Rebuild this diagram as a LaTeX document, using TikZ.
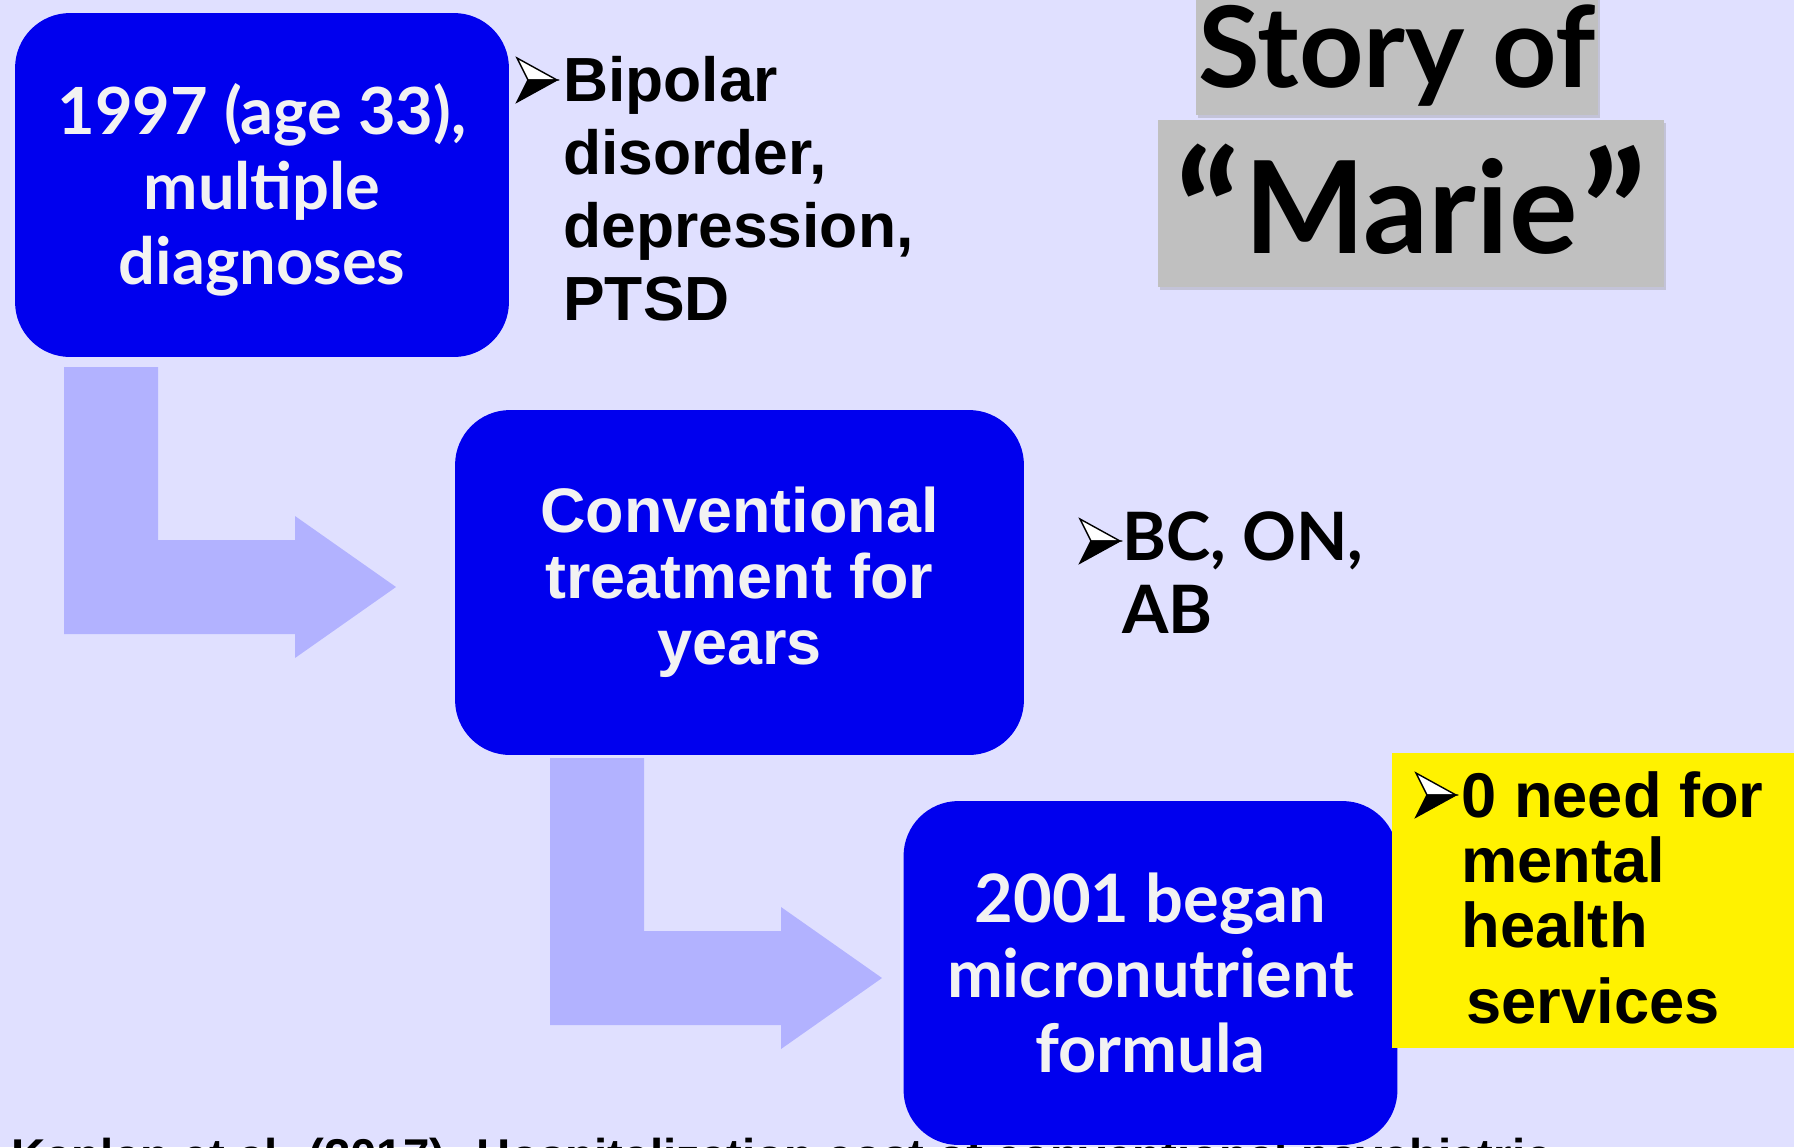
\documentclass[tikz,border=0pt]{standalone}
\usepackage{fontspec}
\usetikzlibrary{shadows}
\newfontfamily\gillfont{Lato}
\newfontfamily\arialfont{Liberation Sans}
\definecolor{slidebg}{RGB}{224,224,255}
\definecolor{boxblue}{RGB}{0,0,238}
\definecolor{elbowblue}{RGB}{178,178,255}
\definecolor{boxwhite}{RGB}{242,242,242}
\definecolor{titlegrey}{RGB}{192,192,192}
\tikzset{
  bluebox/.style={fill=boxblue, rounded corners=1.1cm, text=boxwhite, align=center, inner sep=0pt,
    font=\gillfont\bfseries\fontsize{37}{42.7}\selectfont},
  notetext/.style={anchor=base west, align=left, inner sep=0pt,
    font=\arialfont\bfseries\fontsize{35.5}{41.5}\selectfont},
  titlebox/.style={fill=titlegrey, anchor=base, inner sep=0pt,
    drop shadow={shadow xshift=1pt, shadow yshift=-1.5pt, opacity=0.3}},
  bullet/.pic={
    \filldraw[fill=white, line width=0.8pt, line join=miter] (-20,-22) -- (20,0) -- (-9,0) -- cycle;
    \filldraw[fill=black, line width=0.8pt, line join=miter] (-9,0) -- (20,0) -- (-20,22) -- cycle;
  }
}
\newcommand{\bigquote}[1]{\raisebox{-13pt}{\fontsize{96}{96}\selectfont #1}}

\begin{document}
\begin{tikzpicture}[x=0.02cm, y=-0.02cm]
    \useasboundingbox (0,0) rectangle (1794,1147);
    \fill[slidebg] (0,0) rectangle (1794,1147);

    % reference line, cut off by the page edge
    \node[anchor=base west, inner sep=0pt, font=\arialfont\bfseries\fontsize{27}{30}\selectfont] (cite)
        at (11,1172) {Kaplan et al. (2017). Hospitalization cost of conventional psychiatric};

    % elbow arrows from one step to the next
    \foreach \x/\y in {64/367, 550/758}
        \fill[elbowblue] (\x,\y) -- ++(94,0) -- ++(0,173) -- ++(137,0) -- ++(0,-24)
            -- ++(101,71) -- ++(-101,71) -- ++(0,-24) -- ++(-231,0) -- cycle;

    % the three steps
    \node[bluebox, minimum width=9.88cm, minimum height=6.88cm] (diag) at (262,185)
        {\rule{0pt}{35pt}1997 (age 33),\\ multiple\\ diagnoses};
    \node[bluebox, minimum width=11.38cm, minimum height=6.9cm,
        font=\arialfont\bfseries\fontsize{35.8}{37.5}\selectfont] (conv) at (739.5,582.5)
        {Conventional\\ treatment for\\ years};
    \node[bluebox, minimum width=9.88cm, minimum height=6.88cm,
        font=\gillfont\bfseries\fontsize{38}{42.7}\selectfont] (micro) at (1150.5,973)
        {2001 began\\ micronutrient\\ formula};

    % notes beside the steps (anchored at the last line)
    \pic at (537,80) {bullet};
    \node[notetext] (dx) at (563,320) {Bipolar\\ disorder,\\ depression,\\ PTSD};
    \pic at (1100,541) {bullet};
    \node[notetext, font=\gillfont\bfseries\fontsize{38}{41.5}\selectfont] (prov) at (1122,633) {BC, ON,\\ AB};

    % outcome
    \fill[yellow] (1392,753) rectangle (1794,1048);
    \pic at (1436,795) {bullet};
    \node[notetext, font=\arialfont\bfseries\fontsize{36}{37}\selectfont] (result) at (1461,1023)
        {0 need for\\ mental\\ health\\[6pt] \hspace{3pt}services};

    % title
    \node[titlebox, minimum width=8.04cm, text height=1.94cm, text depth=0.56cm,
        font=\gillfont\bfseries\fontsize{64}{64}\selectfont] (story) at (1397,87) {Story of};
    \node[titlebox, minimum width=10.12cm, text height=2.66cm, text depth=0.68cm,
        font=\gillfont\bfseries\fontsize{73}{73}\selectfont] (marie) at (1411,253)
        {\bigquote{“}\hspace{2pt}Marie\hspace{2pt}\bigquote{”}};
\end{tikzpicture}
\end{document}
